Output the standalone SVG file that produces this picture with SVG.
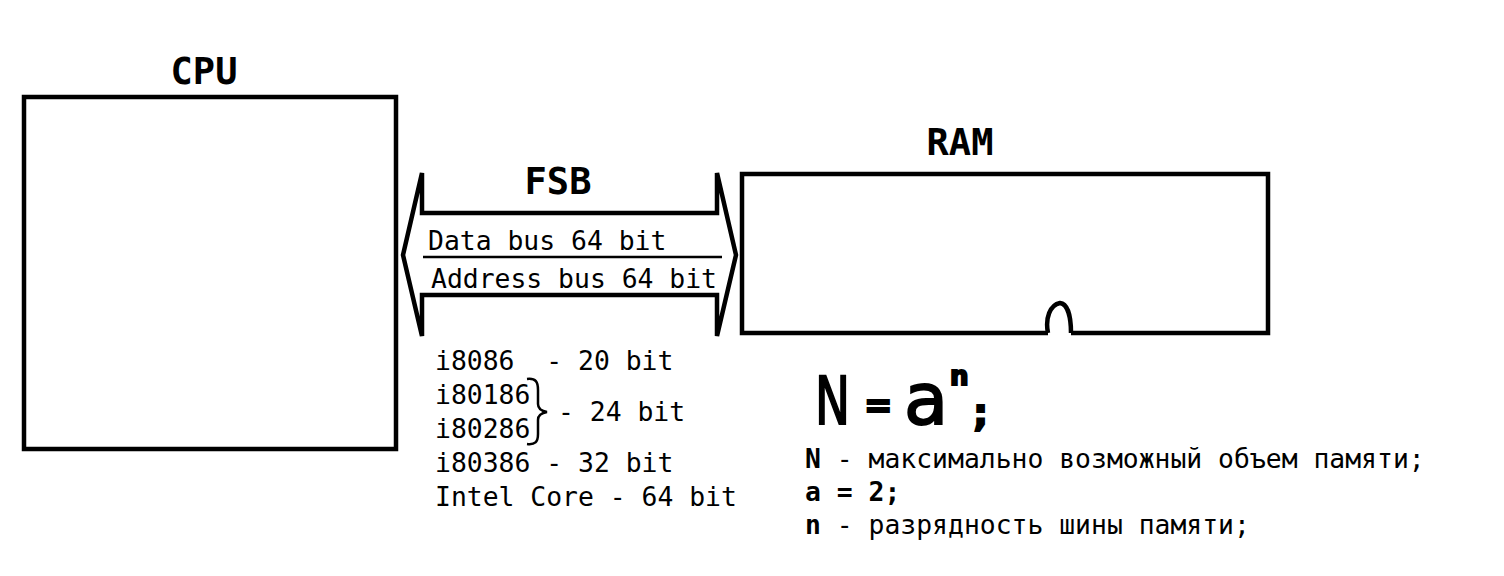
<svg xmlns="http://www.w3.org/2000/svg" width="1504" height="576" viewBox="0 0 1504 576">
<style>
.box{fill:none;stroke:#000;stroke-width:4.5}
.t{font-family:"DejaVu Sans Mono","Liberation Mono",monospace;font-size:26.4px;fill:#000;white-space:pre}
.h{font-family:"DejaVu Sans Mono","Liberation Mono",monospace;font-size:37px;font-weight:bold;fill:#000}
.f{font-family:"DejaVu Sans","Noto Sans",sans-serif;fill:#000;stroke:#000;stroke-width:2}
.b{font-weight:bold}
</style>
<rect width="1504" height="576" fill="#fff"/>
<g id="cpu">
<rect class="box" x="24" y="97" width="372" height="352"/>
<text class="h" x="204" y="84" text-anchor="middle">CPU</text>
</g>
<g id="ram">
<path class="box" d="M1048,333 L742,333 L742,174 L1268,174 L1268,333 L1071,333 M1048,333 C1045,318 1050,305 1060,303 C1068,304 1071,318 1071,333"/>
<text class="h" x="960" y="155" text-anchor="middle">RAM</text>
</g>
<g id="connectors">
<path id="fsb" d="M422,173 L422,213 L717,213 L717,173 L736,255 L717,336 L717,295 L422,295 L422,336 L403,255 Z" fill="none" stroke="#000" stroke-width="4.5" stroke-linejoin="miter"/>
<line x1="423" y1="257" x2="722" y2="257" stroke="#000" stroke-width="2.5"/>
</g>
<g id="fsb-labels">
<text class="h" x="558" y="194" text-anchor="middle">FSB</text>
<text class="t" x="428" y="250">Data bus 64 bit</text>
<text class="t" x="431" y="288">Address bus 64 bit</text>
</g>
<g id="cpu-list">
<text class="t" x="435" y="370" xml:space="preserve">i8086  - 20 bit</text>
<text class="t" x="435" y="404">i80186</text>
<text class="t" x="435" y="438">i80286</text>
<text class="t" x="558" y="421">- 24 bit</text>
<text class="t" x="435" y="472">i80386 - 32 bit</text>
<text class="t" x="435" y="506">Intel Core - 64 bit</text>
<path d="M527,379 C536,378 538,382 538,390 L538,404 C538,409 541,411 547,412 C541,413 538,415 538,420 L538,434 C538,442 535,445 527,444" fill="none" stroke="#000" stroke-width="2.5"/>
</g>
<g id="formula">
<text class="f" y="424"><tspan x="815" font-size="66" textLength="35" lengthAdjust="spacingAndGlyphs">N</tspan><tspan x="864" y="417" font-size="34" font-weight="bold">=</tspan><tspan x="904" y="424" font-size="72">a</tspan><tspan x="950" y="385" font-size="26" font-weight="bold">n</tspan><tspan x="973" y="426" font-size="38" font-weight="bold">;</tspan></text>
</g>
<g id="legend">
<text class="t" x="805" y="468"><tspan class="b">N</tspan> - максимально возможный объем памяти;</text>
<text class="t b" x="805" y="501">a = 2;</text>
<text class="t" x="805" y="534"><tspan class="b">n</tspan> - разрядность шины памяти;</text>
</g>
</svg>
